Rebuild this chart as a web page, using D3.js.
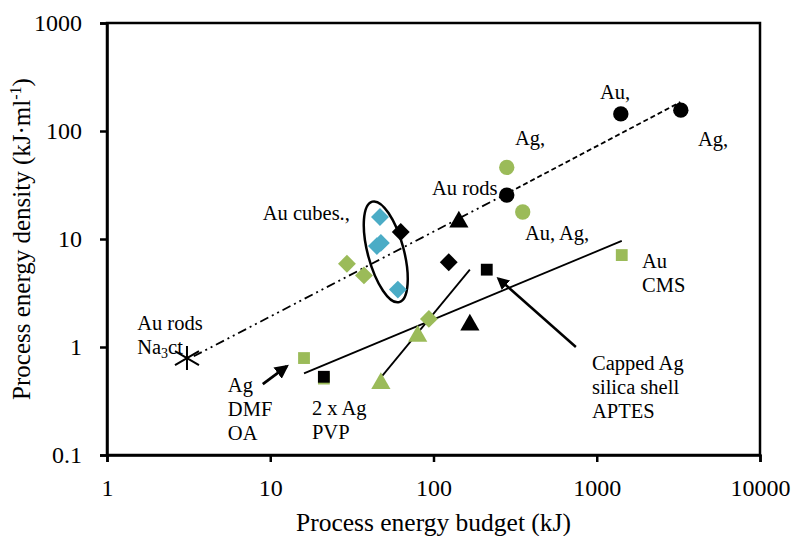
<!DOCTYPE html>
<html>
<head>
<meta charset="utf-8">
<script src="https://cdn.jsdelivr.net/npm/d3@7/dist/d3.min.js"></script>
<style>
  body { margin: 0; background: #fff; }
</style>
</head>
<body>
<script>
// chart size
var w = 793;
var h = 536;
var serif = "Liberation Serif, DejaVu Serif, Noto Serif, Times New Roman, serif";

// data
var xTicks = [1, 10, 100, 1000, 10000];
var yTicks = [0.1, 1, 10, 100, 1000];

var blackCircleX = [1404, 3273, 281];
var blackCircleY = [144, 156, 25.5];
var greenCircleX = [281, 352];
var greenCircleY = [46, 17.8];
var blackTriX = [143, 167];
var blackTriY = [14.4, 1.6];
var greenTriX = [80, 47.6];
var greenTriY = [1.26, 0.46];
var blackDiaX = [63, 124];
var blackDiaY = [11.6, 6.1];
var greenDiaX = [29.5, 37.5, 93.7];
var greenDiaY = [5.9, 4.6, 1.82];
var blueDiaX = [47, 45, 47.6, 60.5];
var blueDiaY = [16, 8.6, 9.2, 3.4];
var greenSqX = [21.3, 16.1, 1423];
var greenSqY = [0.51, 0.79, 7.1];
var blackSqX = [212, 21.3];
var blackSqY = [5.2, 0.53];
var starX = [3.09];
var starY = [0.79];

// trend lines [x0, y0, x1, y1]
var trendDashDot = [3.4, 0.82, 290, 27];
var trendDashed = [290, 27, 3250, 185];
var trendSolid1 = [16.1, 0.57, 1423, 9.6];
var trendSolid2 = [47, 0.51, 167, 5.2];
// arrows [xFrom, yFrom, xTo, yTo]
var arrow1 = [745, 1.0, 250, 4.3];
var arrow2 = [9.0, 0.454, 12.6, 0.66];
// ellipse round the cube points [x, y]
var ellipseCenter = [51, 7.6];

// labels: [text lines, x, y] (left / baseline of first line)
var labels = [
  [["Au,"], 1047, 198],
  [["Ag,"], 4169, 72.6],
  [["Ag,"], 316, 74],
  [["Au rods"], 98, 25.5],
  [["Au, Ag,"], 363, 9.8],
  [["Au cubes.,"], 9.0, 15],
  [["Au", "CMS"], 1893, 5.4],
  [["Au rods", "Na3ct"], 1.53, 1.44],
  [["Ag", "DMF", "OA"], 5.5, 0.383],
  [["2 x Ag", "PVP"], 18, 0.235],
  [["Capped Ag", "silica shell", "APTES"], 935, 0.612]
];

var green = "#9bbb59";
var blue = "#4bacc6";

var x = d3.scaleLog().domain([1, 10000]).range([107, 760]);
var y = d3.scaleLog().domain([0.1, 1000]).range([455, 23]);

var svg = d3.select("body")
            .append("svg")
            .attr("width", w)
            .attr("height", h)
            .style("font-family", serif);

svg.append("defs").append("marker")
   .attr("id", "arrow")
   .attr("viewBox", "0 0 10 10")
   .attr("refX", 8).attr("refY", 5)
   .attr("markerWidth", 5).attr("markerHeight", 5)
   .attr("orient", "auto")
   .append("path").attr("d", "M0,0L10,5L0,10z").attr("fill", "black");

// frame
svg.append("rect")
   .attr("x", x(1)).attr("y", y(1000))
   .attr("width", x(10000) - x(1)).attr("height", y(0.1) - y(1000))
   .attr("fill", "none").attr("stroke", "black").attr("stroke-width", 2.5);

// axes
var xAxis = d3.axisBottom(x).tickValues(xTicks).tickFormat(d3.format("d")).tickSize(7).tickPadding(17);
var yAxis = d3.axisLeft(y).tickValues(yTicks).tickFormat(function(d) { return d < 1 ? d : d3.format("d")(d); }).tickSize(7).tickPadding(18);

var gx = svg.append("g").attr("transform", "translate(0," + y(0.1) + ")").call(xAxis);
var gy = svg.append("g").attr("transform", "translate(" + x(1) + ",0)").call(yAxis);
[gx, gy].forEach(function(g) {
  g.attr("font-family", null).attr("font-size", null);
  g.select(".domain").attr("stroke-width", 2.5);
  g.selectAll(".tick line").attr("stroke-width", 2.5);
  g.selectAll(".tick text").style("font-family", serif).style("font-size", "24px").attr("fill", "black");
});

// axis titles
svg.append("text")
   .attr("x", (x(1) + x(10000)) / 2).attr("y", 531)
   .attr("text-anchor", "middle").style("font-size", "25.5px")
   .text("Process energy budget (kJ)");

var yt = svg.append("text")
   .attr("transform", "translate(30," + (y(0.1) + y(1000)) / 2 + ") rotate(-90)")
   .attr("text-anchor", "middle").style("font-size", "25px");
yt.append("tspan").text("Process energy density (kJ\u00b7ml");
yt.append("tspan").style("font-size", "16px").attr("dy", "-9").text("-1");
yt.append("tspan").attr("dy", "9").text(")");

function seg(a, dash, width, arrowHead) {
  var l = svg.append("line")
     .attr("x1", x(a[0])).attr("y1", y(a[1]))
     .attr("x2", x(a[2])).attr("y2", y(a[3]))
     .attr("stroke", "black").attr("stroke-width", width);
  if (dash) l.attr("stroke-dasharray", dash);
  if (arrowHead) l.attr("marker-end", "url(#arrow)");
}

seg(trendDashDot, "9,4,2,4,2,4", 1.8);
seg(trendDashed, "5,3", 1.8);
seg(trendSolid1, null, 1.8);
seg(trendSolid2, null, 1.8);
seg(arrow1, null, 2.5, true);
seg(arrow2, null, 2.8, true);

var ex = x(ellipseCenter[0]);
var ey = y(ellipseCenter[1]);
svg.append("ellipse")
   .attr("cx", ex).attr("cy", ey)
   .attr("rx", 18).attr("ry", 52)
   .attr("transform", "rotate(-15," + ex + "," + ey + ")")
   .attr("fill", "none").attr("stroke", "black").attr("stroke-width", 2.5);

function pts(xs, ys) {
  return xs.map(function(d, i) { return [d, ys[i]]; });
}

function draw(data, type, size, fill, rot) {
  svg.append("g").selectAll("path")
     .data(data)
     .enter()
     .append("path")
     .attr("d", d3.symbol().type(type).size(size))
     .attr("transform", function(d) {
       return "translate(" + x(d[0]) + "," + y(d[1]) + ")" + (rot ? " rotate(" + rot + ")" : "");
     })
     .attr("fill", fill);
}

draw(pts(greenSqX, greenSqY), d3.symbolSquare, 140, green);
draw(pts(blackSqX, blackSqY), d3.symbolSquare, 140, "black");
draw(pts(blackCircleX, blackCircleY), d3.symbolCircle, 185, "black");
draw(pts(greenCircleX, greenCircleY), d3.symbolCircle, 185, green);
draw(pts(blackTriX, blackTriY), d3.symbolTriangle, 160, "black");
draw(pts(greenTriX, greenTriY), d3.symbolTriangle, 160, green);
draw(pts(blackDiaX, blackDiaY), d3.symbolSquare, 160, "black", 45);
draw(pts(greenDiaX, greenDiaY), d3.symbolSquare, 160, green, 45);
draw(pts(blueDiaX, blueDiaY), d3.symbolSquare, 160, blue, 45);

// asterisk marker
svg.append("g").selectAll("path")
   .data(pts(starX, starY))
   .enter()
   .append("path")
   .attr("d", "M0,-12V12M-12,-7L12,7M-12,7L12,-7")
   .attr("transform", function(d) { return "translate(" + x(d[0]) + "," + y(d[1]) + ")"; })
   .attr("stroke", "black").attr("stroke-width", 2).attr("fill", "none");

// labels
labels.forEach(function(lb) {
  var t = svg.append("text")
     .attr("x", x(lb[1])).attr("y", y(lb[2]))
     .style("font-size", "20.5px").attr("fill", "black");
  lb[0].forEach(function(s, i) {
    var ts = t.append("tspan").attr("x", x(lb[1])).attr("dy", i === 0 ? 0 : 24);
    if (s === "Na3ct") {
      ts.text("Na");
      t.append("tspan").style("font-size", "14px").attr("dy", 4).text("3");
      t.append("tspan").attr("dy", -4).text("ct");
    } else {
      ts.text(s);
    }
  });
});
</script>
</body>
</html>
